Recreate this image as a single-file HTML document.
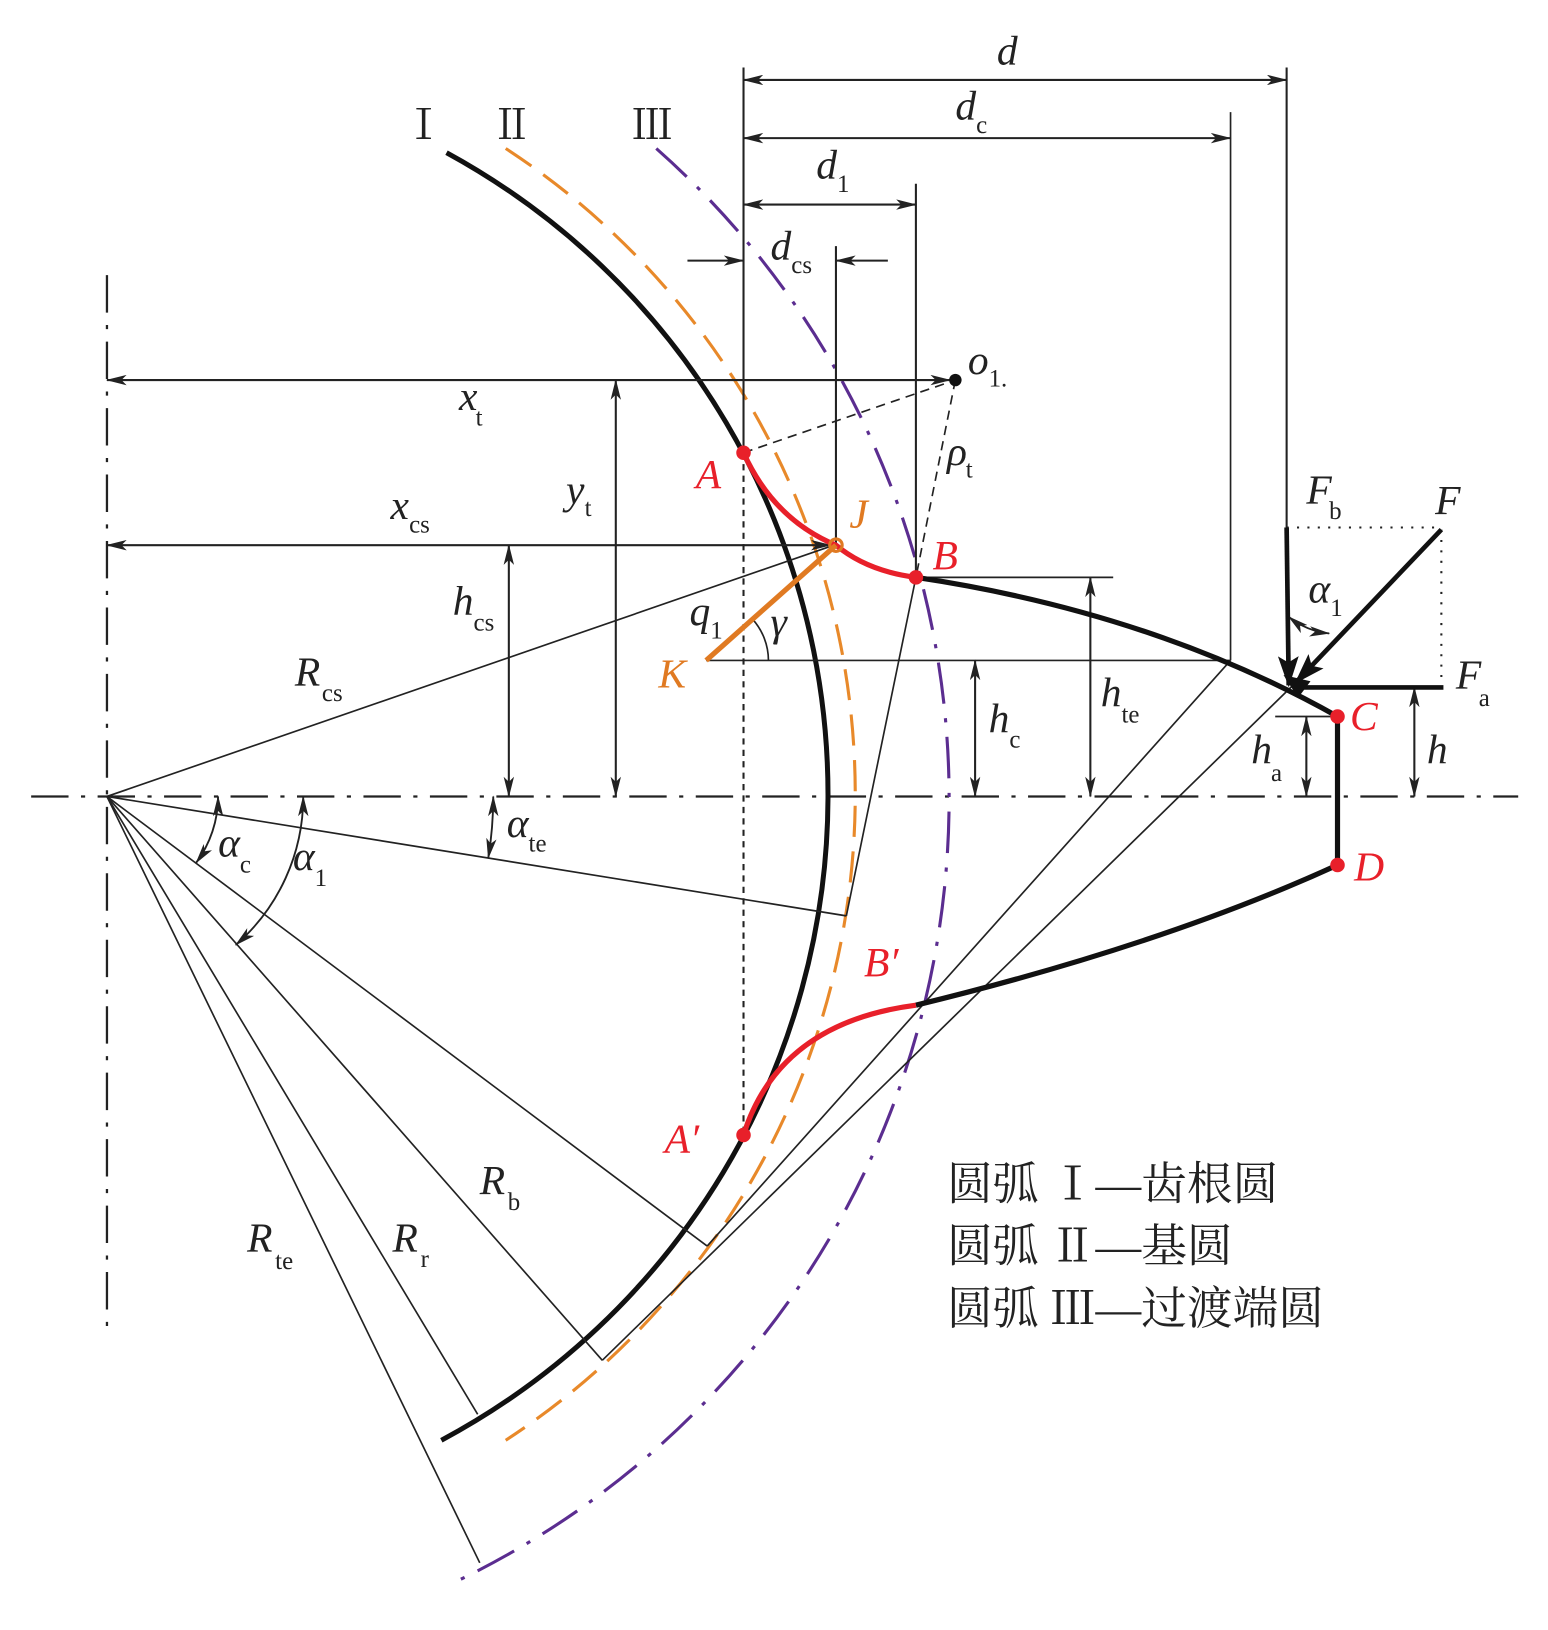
<!DOCTYPE html>
<html><head><meta charset="utf-8"><style>
html,body{margin:0;padding:0;background:#fff}
svg{display:block}
.m{font-family:"Liberation Serif",serif;font-style:italic;font-size:40px;fill:#222}
.s{font-family:"Liberation Serif",serif;font-size:24px;fill:#222}
.r{fill:#e8202a}
.o{fill:#e07a22}
.cn{font-family:"Liberation Serif","Noto Serif CJK SC",serif;font-size:44px;fill:#222}
</style></head><body>
<svg width="1548" height="1630" viewBox="0 0 1490.7 1569.7" preserveAspectRatio="none" xmlns="http://www.w3.org/2000/svg">
<defs>
<marker id="ar" viewBox="0 0 20 10" refX="19" refY="5" markerWidth="20" markerHeight="10" markerUnits="userSpaceOnUse" orient="auto-start-reverse">
<path d="M0,0 L20,5 L0,10 L5,5 Z" fill="#222"/></marker>
<marker id="ab" viewBox="0 0 30 20" refX="28" refY="10" markerWidth="30" markerHeight="22" markerUnits="userSpaceOnUse" orient="auto">
<path d="M0,0 L30,10 L0,20 L6,10 Z" fill="#111"/></marker>
</defs>
<g fill="none" stroke="#222">
<line x1="103" y1="265" x2="103" y2="1280" stroke-width="2.2" stroke-dasharray="36 12 4 12"/>
<line x1="30" y1="767" x2="1462" y2="767" stroke-width="2.2" stroke-dasharray="36 12 4 12"/>
<path d="M430,147 A704.6,704.6 0 0 1 425,1387" stroke="#111" stroke-width="4.8"/>
<path d="M487,143 A743,743 0 0 1 487,1387" stroke="#e8892a" stroke-width="3" stroke-dasharray="30 14"/>
<path d="M632,143 A836,836 0 0 1 435,1525" stroke="#5b2d90" stroke-width="3" stroke-dasharray="40 14 4 14"/>
<line x1="716" y1="65" x2="716" y2="436" stroke-width="2"/>
<line x1="716" y1="436" x2="716" y2="1093" stroke-width="2" stroke-dasharray="6 5"/>
<line x1="1239" y1="65" x2="1239" y2="508" stroke-width="2"/>
<line x1="1185" y1="108" x2="1185" y2="636" stroke-width="1.6"/>
<line x1="882" y1="177" x2="882" y2="556" stroke-width="2"/>
<line x1="805" y1="237" x2="805" y2="525" stroke-width="2"/>
<line x1="716" y1="77" x2="1239" y2="77" stroke-width="2" marker-start="url(#ar)" marker-end="url(#ar)"/>
<line x1="716" y1="133" x2="1185" y2="133" stroke-width="2" marker-start="url(#ar)" marker-end="url(#ar)"/>
<line x1="716" y1="197" x2="882" y2="197" stroke-width="2" marker-start="url(#ar)" marker-end="url(#ar)"/>
<line x1="662" y1="251" x2="716" y2="251" stroke-width="2" marker-end="url(#ar)"/>
<line x1="855" y1="251" x2="805" y2="251" stroke-width="2" marker-end="url(#ar)"/>
<line x1="103" y1="366" x2="915" y2="366" stroke-width="2" marker-start="url(#ar)" marker-end="url(#ar)"/>
<line x1="103" y1="525" x2="800" y2="525" stroke-width="2" marker-start="url(#ar)" marker-end="url(#ar)"/>
<line x1="593" y1="366" x2="593" y2="767" stroke-width="2" marker-start="url(#ar)" marker-end="url(#ar)"/>
<line x1="490" y1="525" x2="490" y2="767" stroke-width="2" marker-start="url(#ar)" marker-end="url(#ar)"/>
<line x1="716" y1="436" x2="920" y2="366" stroke-width="1.6" stroke-dasharray="9 6"/>
<line x1="920" y1="366" x2="882" y2="556" stroke-width="1.6" stroke-dasharray="9 6"/>
<line x1="103" y1="767" x2="803" y2="525" stroke-width="1.6"/>
<line x1="680" y1="636" x2="1185" y2="636" stroke-width="1.6"/>
<path d="M740,636 A60,60 0 0 0 724.5,596" stroke-width="1.6"/>
<line x1="939" y1="636" x2="939" y2="767" stroke-width="2" marker-start="url(#ar)" marker-end="url(#ar)"/>
<line x1="882" y1="556" x2="1072" y2="556" stroke-width="1.6"/>
<line x1="1050" y1="556" x2="1050" y2="767" stroke-width="2" marker-start="url(#ar)" marker-end="url(#ar)"/>
<line x1="1228" y1="690" x2="1285" y2="690" stroke-width="1.6"/>
<line x1="1258" y1="690" x2="1258" y2="767" stroke-width="2" marker-start="url(#ar)" marker-end="url(#ar)"/>
<line x1="1362" y1="662" x2="1362" y2="767" stroke-width="2" marker-start="url(#ar)" marker-end="url(#ar)"/>
<line x1="103" y1="767" x2="815" y2="882" stroke-width="1.6"/>
<line x1="815" y1="882" x2="882" y2="556" stroke-width="1.6"/>
<line x1="103" y1="767" x2="681" y2="1200" stroke-width="1.6"/>
<line x1="103" y1="767" x2="580" y2="1310" stroke-width="1.6"/>
<line x1="103" y1="767" x2="460" y2="1362" stroke-width="1.6"/>
<line x1="103" y1="767" x2="462" y2="1505" stroke-width="1.6"/>
<line x1="681" y1="1200" x2="1185" y2="636" stroke-width="1.6"/>
<line x1="580" y1="1310" x2="1245" y2="660" stroke-width="1.6"/>
<path d="M475,767 A372,372 0 0 1 470.2,826.3" stroke-width="1.8" marker-start="url(#ar)" marker-end="url(#ar)"/>
<path d="M210,767 A107,107 0 0 1 188.8,831" stroke-width="1.8" marker-start="url(#ar)" marker-end="url(#ar)"/>
<path d="M292,767 A189,189 0 0 1 227,910" stroke-width="1.8" marker-start="url(#ar)" marker-end="url(#ar)"/>
<path d="M1241,594 A75,75 0 0 0 1280,610" stroke-width="1.8" marker-start="url(#ar)" marker-end="url(#ar)"/>
<path d="M882,556 Q1110,590 1288,690 L1288,833 Q1120,910 882,968" stroke="#111" stroke-width="5"/>
<line x1="1239" y1="508" x2="1388" y2="508" stroke-width="2" stroke-dasharray="2 8"/>
<line x1="1388" y1="510" x2="1388" y2="660" stroke-width="2" stroke-dasharray="2 8"/>
<line x1="1239" y1="508" x2="1241" y2="660" stroke="#111" stroke-width="4.5" marker-end="url(#ab)"/>
<line x1="1388" y1="510" x2="1248" y2="657" stroke="#111" stroke-width="4.5" marker-end="url(#ab)"/>
<line x1="1390" y1="662" x2="1250" y2="662" stroke="#111" stroke-width="4.5"/>
<path d="M1236,650 L1262,656 L1250,672 Z" fill="#111" stroke="none"/>
<path d="M716,436 Q745,500 805,525 Q835,550 882,556" stroke="#e8202a" stroke-width="5"/>
<path d="M716,1093 Q750,985 882,968" stroke="#e8202a" stroke-width="5"/>
<line x1="680" y1="636" x2="805" y2="525" stroke="#e07a22" stroke-width="5"/>
</g>
<circle cx="920" cy="366" r="6" fill="#111"/>
<circle cx="716" cy="436" r="7" fill="#e8202a"/>
<circle cx="882" cy="556" r="7" fill="#e8202a"/>
<circle cx="1288" cy="690" r="7" fill="#e8202a"/>
<circle cx="1288" cy="833" r="7" fill="#e8202a"/>
<circle cx="716" cy="1093" r="7" fill="#e8202a"/>
<circle cx="805" cy="525" r="6" fill="none" stroke="#e07a22" stroke-width="3"/>
<text class="cn" x="388" y="134" style="font-size:40px">Ⅰ</text>
<text class="cn" x="473" y="134" style="font-size:40px">Ⅱ</text>
<text class="cn" x="608" y="134" style="font-size:40px">Ⅲ</text>
<text class="m" x="960" y="62">d</text>
<text class="m" x="920" y="115">d</text><text class="s" x="940" y="128">c</text>
<text class="m" x="786" y="172">d</text><text class="s" x="806" y="185">1</text>
<text class="m" x="742" y="250">d</text><text class="s" x="762" y="263">cs</text>
<text class="m" x="932" y="360">o</text><text class="s" x="952" y="372">1.</text>
<text class="m" x="442" y="395">x</text><text class="s" x="458" y="410">t</text>
<text class="m" x="545" y="485">y</text><text class="s" x="563" y="497">t</text>
<text class="m" x="912" y="448">ρ</text><text class="s" x="930" y="460">t</text>
<text class="m" x="376" y="500">x</text><text class="s" x="394" y="513">cs</text>
<text class="m" x="436" y="592">h</text><text class="s" x="456" y="607">cs</text>
<text class="m" x="284" y="660">R</text><text class="s" x="310" y="675">cs</text>
<text class="m" x="664" y="602">q</text><text class="s" x="684" y="615">1</text>
<text class="m" x="742" y="612">γ</text>
<text class="m o" x="634" y="662">K</text>
<text class="m o" x="818" y="508">J</text>
<text class="m r" x="670" y="470">A</text>
<text class="m r" x="898" y="548">B</text>
<text class="m r" x="1300" y="703">C</text>
<text class="m r" x="1304" y="848">D</text>
<text class="m r" x="640" y="1110">A′</text>
<text class="m r" x="832" y="940">B′</text>
<text class="m" x="952" y="705">h</text><text class="s" x="972" y="720">c</text>
<text class="m" x="1060" y="680">h</text><text class="s" x="1080" y="696">te</text>
<text class="m" x="1205" y="735">h</text><text class="s" x="1224" y="752">a</text>
<text class="m" x="1374" y="735">h</text>
<text class="m" x="1258" y="485">F</text><text class="s" x="1280" y="500">b</text>
<text class="m" x="1382" y="495">F</text>
<text class="m" x="1402" y="663">F</text><text class="s" x="1424" y="680">a</text>
<text class="m" x="1260" y="580">α</text><text class="s" x="1281" y="593">1</text>
<text class="m" x="488" y="806">α</text><text class="s" x="509" y="820">te</text>
<text class="m" x="210" y="825">α</text><text class="s" x="231" y="840">c</text>
<text class="m" x="282" y="838">α</text><text class="s" x="303" y="853">1</text>
<text class="m" x="462" y="1150">R</text><text class="s" x="489" y="1165">b</text>
<text class="m" x="378" y="1205">R</text><text class="s" x="405" y="1220">r</text>
<text class="m" x="238" y="1205">R</text><text class="s" x="265" y="1222">te</text>
<text class="cn" x="912" y="1155">圆弧 Ⅰ—齿根圆</text>
<text class="cn" x="912" y="1215">圆弧 Ⅱ—基圆</text>
<text class="cn" x="912" y="1275">圆弧 Ⅲ—过渡端圆</text>
</svg>
</body></html>
